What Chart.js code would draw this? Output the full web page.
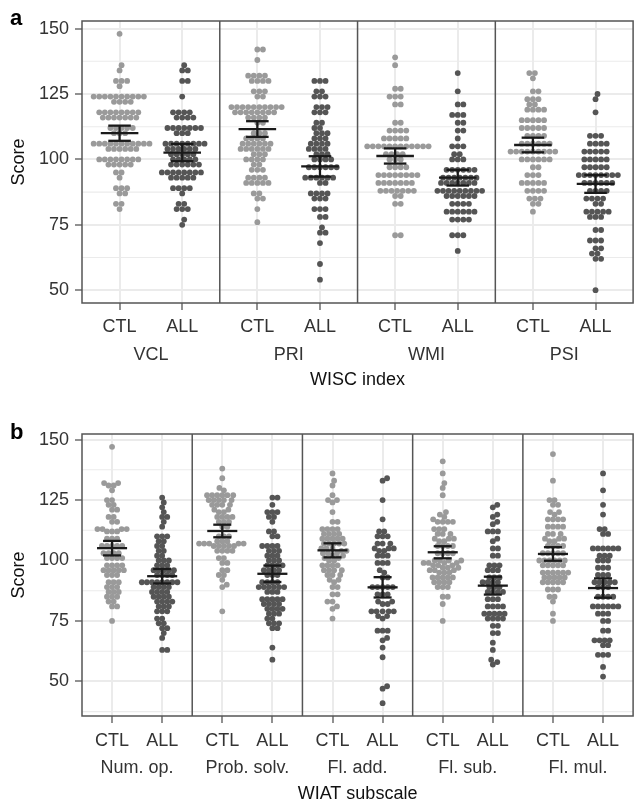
<!DOCTYPE html>
<html>
<head>
<meta charset="utf-8">
<script src="https://cdn.jsdelivr.net/npm/chart.js@4"></script>
<style>
  body { margin: 0; background: #fff; }
  #wrapA { position: absolute; left: 0; top: 0; width: 636px; height: 400px; }
  #wrapB { position: absolute; left: 0; top: 400px; width: 636px; height: 405px; }
</style>
</head>
<body>
<div id="wrapA"><canvas id="chartA" width="636" height="400"></canvas></div>
<div id="wrapB"><canvas id="chartB" width="636" height="405"></canvas></div>
<script>
// ---- data ----
const groups = ['CTL', 'ALL'];
const wiscIndex = ['VCL', 'PRI', 'WMI', 'PSI'];
const wiatSubscale = ['Num. op.', 'Prob. solv.', 'Fl. add.', 'Fl. sub.', 'Fl. mul.'];
const yTicks = [50, 75, 100, 125, 150];

// WISC index scores (panel a)
const vclCtl = [148,136,134,130,130,130,128,124,124,124,124,124,124,124,124,124,124,122,122,122,122,
  118,118,118,118,118,118,118,118,116,116,116,116,116,116,116,112,112,112,112,112,110,110,110,
  106,106,106,106,106,106,106,106,106,106,106,104,104,104,104,104,104,100,100,100,100,100,100,100,100,
  98,98,98,98,98,95,95,93,89,89,89,87,87,83,83,81];
const vclAll = [136,134,134,130,130,124,118,118,118,118,116,116,116,116,112,112,112,112,112,112,112,110,110,110,
  106,106,106,106,106,106,106,106,104,104,104,104,104,104,102,102,102,102,102,100,100,100,100,100,
  98,98,98,98,98,98,95,95,95,95,95,95,95,95,93,93,93,93,93,89,89,89,89,87,83,83,81,81,81,77,75];
const priCtl = [142,142,138,132,132,132,132,130,130,130,130,126,126,126,124,124,
  120,120,120,120,120,120,120,120,120,120,118,118,118,118,118,118,118,118,
  116,116,116,116,114,114,110,110,110,108,108,108,108,106,106,106,106,106,106,104,104,104,104,104,104,
  102,102,102,100,100,100,100,98,98,96,96,96,93,93,93,93,91,91,91,91,91,87,87,85,85,81,76];
const priAll = [130,130,130,126,126,124,124,124,120,120,120,118,118,118,114,114,112,112,
  110,110,110,108,108,108,106,106,106,106,104,104,104,104,102,102,102,100,100,100,100,
  97,97,97,97,97,97,93,93,93,93,93,93,91,91,87,87,87,87,85,85,85,81,81,81,78,78,74,72,72,68,60,54];
const wmiCtl = [139,136,127,127,124,124,124,121,121,114,114,111,111,111,111,108,108,108,108,108,
  105,105,105,105,105,105,105,105,105,105,105,105,102,102,102,102,100,100,100,97,97,97,97,
  94,94,94,94,94,94,94,94,91,91,91,91,91,91,91,88,88,88,88,88,88,88,86,86,83,83,71,71];
const wmiAll = [133,126,121,121,117,117,117,114,114,111,111,108,105,105,105,102,102,100,100,100,
  96,96,96,96,96,96,93,93,93,93,93,93,93,91,91,91,91,91,91,91,
  88,88,88,88,88,88,88,88,88,86,86,86,86,86,86,83,83,83,83,
  80,80,80,80,80,80,77,77,77,77,71,71,71,65];
const psiCtl = [133,133,131,126,126,123,123,123,121,121,119,119,119,119,115,115,115,115,115,
  112,112,112,112,112,109,109,109,109,106,106,106,106,106,106,
  103,103,103,103,103,103,103,103,103,100,100,100,100,100,100,97,97,94,94,94,
  91,91,91,91,91,88,88,88,88,85,85,85,83,83,80];
const psiAll = [125,123,118,109,109,109,106,106,106,106,103,103,103,103,103,100,100,100,100,100,
  97,97,97,97,97,94,94,94,94,94,94,94,94,91,91,91,91,91,91,88,88,88,88,85,85,85,85,83,83,
  80,80,80,80,80,78,78,78,73,73,69,69,69,66,66,64,64,62,62,50];

// WIAT subscale scores (panel b)
const numCtl = [147,132,132,131,131,129,125,125,123,123,121,121,118,118,116,116,113,113,113,113,112,112,112,
  109,109,109,106,106,106,106,106,103,103,103,103,101,101,101,101,98,98,98,98,
  96,96,96,96,96,94,94,94,91,91,91,89,89,89,87,87,87,85,85,85,83,83,81,81,75];
const numAll = [126,124,122,120,118,118,116,114,110,110,110,108,108,106,106,104,104,102,102,100,100,100,98,98,98,
  96,96,96,96,96,94,94,94,94,91,91,91,91,91,91,91,91,89,89,89,89,87,87,87,87,85,85,85,85,
  83,83,83,83,81,81,81,79,79,79,76,76,74,74,72,72,70,68,63,63];
const probCtl = [138,134,130,129,127,127,127,127,127,127,125,125,125,125,125,123,123,123,123,121,121,120,120,
  118,118,118,118,116,116,116,114,114,110,110,110,108,108,108,107,107,107,107,107,
  106,106,106,106,106,104,104,104,104,101,101,99,99,96,96,94,94,92,90,89,79];
const probAll = [126,126,123,120,120,120,118,118,116,112,112,110,110,106,106,106,106,104,104,104,102,102,102,100,100,100,
  98,98,98,98,96,96,96,96,94,94,94,91,91,91,91,89,89,89,89,89,89,87,87,87,
  84,84,84,84,84,82,82,82,82,80,80,80,80,78,78,78,76,76,74,74,74,72,72,64,59];
const addCtl = [136,133,131,127,125,125,124,120,116,116,113,113,113,113,111,111,111,111,109,109,109,109,109,
  107,107,107,107,107,105,105,105,104,104,103,103,103,102,102,101,101,100,100,
  98,98,98,98,96,96,96,96,94,94,94,92,92,91,89,89,86,86,83,83,81,80,76];
const addAll = [134,133,125,117,112,112,110,110,110,107,107,107,105,105,105,104,104,102,102,102,99,99,99,96,95,93,93,
  89,89,89,89,89,86,86,86,83,83,82,82,79,79,79,79,79,77,77,76,71,71,71,68,67,64,60,48,47,41];
const subCtl = [141,136,132,130,127,120,119,118,117,116,116,116,116,113,113,113,111,111,111,109,109,109,108,108,
  106,106,106,106,103,103,103,103,100,100,100,100,99,99,99,99,98,98,98,97,97,97,96,96,96,95,95,95,
  93,93,93,93,93,91,91,91,91,89,89,89,85,85,82,75];
const subAll = [123,122,119,118,116,115,112,112,112,109,108,105,105,102,102,98,98,98,96,96,96,93,93,93,
  91,91,91,91,89,89,89,87,87,87,87,84,84,84,81,81,81,81,78,78,78,78,78,76,76,76,76,73,73,70,70,66,63,59,58,57];
const mulCtl = [144,133,125,125,123,123,120,120,119,117,117,117,117,114,114,114,114,111,111,111,109,109,109,108,108,
  106,106,106,106,103,103,103,103,103,100,100,100,100,100,100,98,98,98,98,98,
  95,95,95,95,95,95,93,93,93,93,93,91,91,91,91,91,88,88,88,85,85,83,78,75];
const mulAll = [136,129,123,119,113,113,111,111,105,105,105,105,105,105,102,102,102,100,100,100,97,97,97,94,94,94,
  91,91,91,91,91,89,89,89,85,85,85,85,81,81,81,81,81,81,78,78,78,75,75,71,71,67,67,67,67,65,65,61,61,61,56,52];

// group means and 95% CI half widths, as shown by the error bars
const wiscMeanCtl = [110.0, 111.6, 101.3, 105.5];
const wiscMeanAll = [102.6, 97.3, 93.0, 90.6];
const wiscCiCtl = [2.9, 3.0, 2.9, 2.8];
const wiscCiAll = [3.3, 3.9, 3.0, 3.4];
const wiatMeanCtl = [105.1, 112.2, 104.2, 103.4, 102.7];
const wiatMeanAll = [93.5, 94.5, 88.9, 89.6, 88.6];
const wiatCiCtl = [3.0, 2.6, 2.9, 2.5, 2.8];
const wiatCiAll = [3.0, 3.4, 4.2, 3.7, 4.0];

// ---- drawing ----
const FW = 2.2;          // width of one facet in x units
const gx = [0.6, 1.6];   // CTL / ALL position inside a facet
const font = "'Liberation Sans', Arial, sans-serif";
const gridCol = '#ebebeb';
const textCol = '#333333';
const dotCol = ['#9a9a9a', '#555555'];

// simple beeswarm: offsets in pixels, converted back to x units
function swarm(vals, centre, chart, d) {
  const xs = chart.scales.x, ys = chart.scales.y;
  const pxPerUnit = xs.getPixelForValue(1) - xs.getPixelForValue(0);
  const order = vals.map((v, i) => i).sort((a, b) => vals[a] - vals[b]);
  const placed = [];
  const out = [];
  order.forEach(i => {
    const py = ys.getPixelForValue(vals[i]);
    const near = placed.filter(p => Math.abs(p.py - py) < d);
    const cands = [0];
    near.forEach(p => {
      const dx = Math.sqrt(d * d - (p.py - py) * (p.py - py));
      cands.push(p.px + dx, p.px - dx);
    });
    cands.sort((a, b) => Math.abs(a) - Math.abs(b));
    let best = 0;
    for (const c of cands) {
      if (near.every(p => (p.px - c) ** 2 + (p.py - py) ** 2 >= d * d - 1e-6)) { best = c; break; }
    }
    placed.push({ px: best, py: py });
    out.push({ x: centre + best / pxPerUnit, y: vals[i] });
  });
  return out;
}

function panel(canvasId, o) {
  const n = o.facets.length;
  const tickPos = [];
  o.facets.forEach((f, k) => { tickPos.push(k * FW + gx[0], k * FW + gx[1]); });
  const facetPos = o.facets.map((f, k) => k * FW + FW / 2);

  const deco = {
    id: 'deco',
    beforeDatasetsDraw(chart) {
      const ctx = chart.ctx, a = chart.chartArea, ys = chart.scales.y;
      ctx.save();
      ctx.strokeStyle = gridCol;
      ctx.lineWidth = 1.1;
      [37.5, 62.5, 87.5, 112.5, 137.5].forEach(v => {
        if (v < o.yMin || v > o.yMax) return;
        const y = ys.getPixelForValue(v);
        ctx.beginPath(); ctx.moveTo(a.left, y); ctx.lineTo(a.right, y); ctx.stroke();
      });
      ctx.restore();
    },
    afterDatasetsDraw(chart) {
      const ctx = chart.ctx, a = chart.chartArea, xs = chart.scales.x, ys = chart.scales.y;
      const line = (x1, y1, x2, y2) => {
        ctx.beginPath();
        ctx.moveTo(xs.getPixelForValue(x1), ys.getPixelForValue(y1));
        ctx.lineTo(xs.getPixelForValue(x2), ys.getPixelForValue(y2));
        ctx.stroke();
      };
      ctx.save();
      ctx.strokeStyle = '#1a1a1a';
      ctx.lineWidth = 2.3;
      o.facets.forEach((f, k) => {
        [[o.meanCtl[k], o.ciCtl[k]], [o.meanAll[k], o.ciAll[k]]].forEach((mc, g) => {
          const cx = k * FW + gx[g], m = mc[0], c = mc[1];
          line(cx - 0.3, m, cx + 0.3, m);
          line(cx - 0.18, m + c, cx + 0.18, m + c);
          line(cx - 0.18, m - c, cx + 0.18, m - c);
          line(cx, m - c, cx, m + c);
        });
      });
      // panel borders
      ctx.strokeStyle = '#555555';
      ctx.lineWidth = 1.5;
      ctx.strokeRect(a.left, a.top, a.right - a.left, a.bottom - a.top);
      for (let k = 1; k < n; k++) {
        const x = xs.getPixelForValue(k * FW);
        ctx.beginPath(); ctx.moveTo(x, a.top); ctx.lineTo(x, a.bottom); ctx.stroke();
      }
      // panel letter
      ctx.fillStyle = '#000';
      ctx.font = 'bold 22px ' + font;
      ctx.textBaseline = 'alphabetic';
      ctx.fillText(o.letter, 10, o.letterY);
      ctx.restore();
    }
  };

  const chart = new Chart(document.getElementById(canvasId), {
    type: 'scatter',
    data: {
      datasets: groups.map((g, gi) => ({
        label: g,
        data: [],
        backgroundColor: dotCol[gi],
        pointRadius: 2.9,
        pointHoverRadius: 2.9,
        borderWidth: 0
      }))
    },
    options: {
      responsive: false,
      animation: false,
      events: [],
      layout: { padding: { top: o.padTop, right: 1, left: 0, bottom: 0 } },
      plugins: { legend: { display: false }, tooltip: { enabled: false } },
      scales: {
        x: {
          type: 'linear', min: 0, max: n * FW, position: 'bottom', weight: 0,
          afterBuildTicks: s => { s.ticks = tickPos.map(v => ({ value: v })); },
          afterFit: s => { s.height = 38; },
          ticks: {
            autoSkip: false, maxRotation: 0, padding: o.tickPad, color: textCol,
            font: { family: font, size: 18 },
            callback: (v, i) => groups[i % 2]
          },
          grid: { color: gridCol, lineWidth: 2, tickColor: '#555', tickLength: 7, tickWidth: 1.3 },
          border: { display: false }
        },
        x2: {
          type: 'linear', min: 0, max: n * FW, position: 'bottom', weight: 1,
          afterBuildTicks: s => { s.ticks = facetPos.map(v => ({ value: v })); },
          afterFit: s => { s.height = o.x2Height; },
          ticks: {
            autoSkip: false, maxRotation: 0, padding: 3, color: textCol,
            font: { family: font, size: 18 },
            callback: (v, i) => o.facets[i]
          },
          grid: { display: false, drawTicks: false },
          border: { display: false },
          title: {
            display: true, text: o.xTitle, color: '#111',
            font: { family: font, size: 18 }, padding: { top: 0, bottom: o.titlePad }
          }
        },
        y: {
          type: 'linear', min: o.yMin, max: o.yMax,
          afterBuildTicks: s => { s.ticks = yTicks.map(v => ({ value: v })); },
          afterFit: s => { s.width = 82; },
          ticks: { padding: 6, color: textCol, font: { family: font, size: 18 }, callback: v => String(v) },
          grid: { color: gridCol, lineWidth: 2, tickColor: '#555', tickLength: 7, tickWidth: 1.3 },
          border: { display: false },
          title: {
            display: true, text: 'Score', color: '#111',
            font: { family: font, size: 18 }, padding: { top: 8, bottom: 0 }
          }
        }
      }
    },
    plugins: [deco]
  });

  groups.forEach((g, gi) => {
    let pts = [];
    o.data.forEach((pair, k) => { pts = pts.concat(swarm(pair[gi], k * FW + gx[gi], chart, o.dotGap)); });
    chart.data.datasets[gi].data = pts;
  });
  chart.update('none');
}

panel('chartA', {
  facets: wiscIndex,
  data: [[vclCtl, vclAll], [priCtl, priAll], [wmiCtl, wmiAll], [psiCtl, psiAll]],
  meanCtl: wiscMeanCtl, meanAll: wiscMeanAll, ciCtl: wiscCiCtl, ciAll: wiscCiAll,
  yMin: 45.1, yMax: 152.9, xTitle: 'WISC index', letter: 'a',
  padTop: 21, x2Height: 59, titlePad: 9, letterY: 25, tickPad: 6, dotGap: 5.6
});

panel('chartB', {
  facets: wiatSubscale,
  data: [[numCtl, numAll], [probCtl, probAll], [addCtl, addAll], [subCtl, subAll], [mulCtl, mulAll]],
  meanCtl: wiatMeanCtl, meanAll: wiatMeanAll, ciCtl: wiatCiCtl, ciAll: wiatCiAll,
  yMin: 35.7, yMax: 152.3, xTitle: 'WIAT subscale', letter: 'b',
  padTop: 34, x2Height: 51, titlePad: 0, letterY: 39, tickPad: 7, dotGap: 5.1
});
</script>
</body>
</html>
